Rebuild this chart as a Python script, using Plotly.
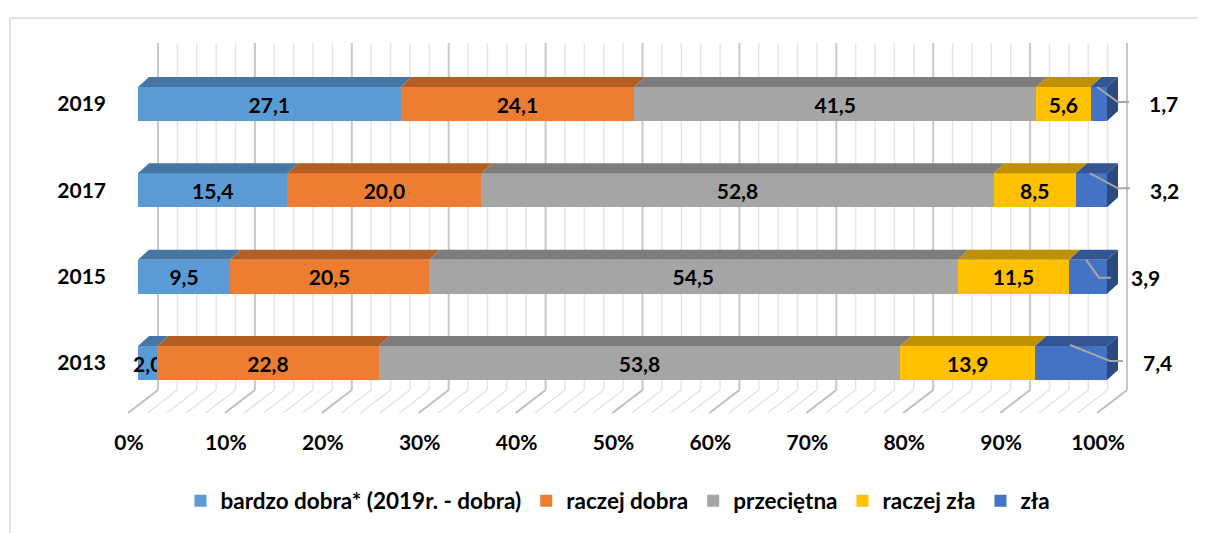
import plotly.graph_objects as go

# ---------------- data ----------------
years = ["2013", "2015", "2017", "2019"]
series_names = ["bardzo dobra* (2019r. - dobra)", "raczej dobra", "przeciętna", "raczej zła", "zła"]
bardzo_dobra = [2.0, 9.5, 15.4, 27.1]
raczej_dobra = [22.8, 20.5, 20.0, 24.1]
przecietna = [53.8, 54.5, 52.8, 41.5]
raczej_zla = [13.9, 11.5, 8.5, 5.6]
zla = [7.4, 3.9, 3.2, 1.7]
x_tick_values = [0, 10, 20, 30, 40, 50, 60, 70, 80, 90, 100]
x_tick_labels = ["0%", "10%", "20%", "30%", "40%", "50%", "60%", "70%", "80%", "90%", "100%"]

series = [bardzo_dobra, raczej_dobra, przecietna, raczej_zla, zla]
front_colors = ["#5B9BD5", "#ED7D31", "#A5A5A5", "#FFC000", "#4472C4"]
top_colors = ["#4676A4", "#B35F24", "#7D7D7D", "#BF9000", "#335693"]
side_color = "#2D4A80"

# ---------------- geometry ----------------
# The page body has an 8px margin, so figure pixel = page pixel - 8.
OFF = 8
PAGE_W, PAGE_H = 1205, 533
W, H = PAGE_W - OFF, PAGE_H - OFF
# plot area in page pixels
PL, PR, PT, PB = 110, 1190, 30, 420
ML, MR, MT, MB = PL - OFF, W - (PR - OFF), PT - OFF, H - (PB - OFF)

X0_PX, PX_PER_X = 138.0, 9.69     # page pixel of 0 %, pixels per percent
Y0_PX, PX_PER_Y = 363.0, 86.33    # page pixel of first category, pixels per category

def xdata(page_px):
    return (page_px - X0_PX) / PX_PER_X

def ydata(page_px):
    return (Y0_PX - page_px) / PX_PER_Y

def dxp(p):
    return p / PX_PER_X

def dyp(p):
    return p / PX_PER_Y

x_range = [xdata(PL), xdata(PR)]
y_range = [ydata(PB), ydata(PT)]

BAR_W = dyp(34)
DX, DY = dxp(11), dyp(10)

ypos = list(range(len(years)))
totals = [sum(s[i] for s in series) for i in ypos]

fig = go.Figure()

def fmt(v):
    return f"{v:.1f}".replace(".", ",")

LABEL_FONT = dict(family="Lato", size=21, color="black", weight="bold")

for k, (name, vals) in enumerate(zip(series_names, series)):
    show_text = k < 4
    fig.add_trace(go.Bar(
        y=ypos, x=vals, name=name, orientation="h", width=BAR_W,
        marker=dict(color=front_colors[k], line=dict(width=0)),
        text=[fmt(v) for v in vals] if show_text else None,
        textposition="inside" if show_text else "none",
        insidetextanchor="middle", textangle=0,
        textfont=LABEL_FONT,
        hoverinfo="skip",
    ))

shapes = []
# back wall + floor gridlines
GX = dxp(20)
wall_top, wall_bot = ydata(43), ydata(390)
floor_front = ydata(413)
FLOOR_DX = dxp(-30)
for v in range(0, 101, 2):
    major = v % 10 == 0
    col_v = "#C8C8C8" if major else "#E6E6E6"
    col_f = "#BFBFBF" if major else "#E3E3E3"
    xb = v + GX
    shapes.append(dict(type="line", xref="x", yref="y", x0=xb, x1=xb, y0=wall_bot, y1=wall_top,
                       line=dict(color=col_v, width=2 if major else 1.5), layer="below"))
    shapes.append(dict(type="line", xref="x", yref="y", x0=xb, x1=xb + FLOOR_DX, y0=wall_bot, y1=floor_front,
                       line=dict(color=col_f, width=2 if major else 1.5), layer="below"))

# top faces and right side face (3-D look)
for i in ypos:
    base = 0.0
    top = i + BAR_W / 2
    bot = i - BAR_W / 2
    for k, vals in enumerate(series):
        a = base
        b = base + vals[i] / totals[i] * 100
        base = b
        path = f"M{a},{top} L{b},{top} L{b + DX},{top + DY} L{a + DX},{top + DY} Z"
        shapes.append(dict(type="path", xref="x", yref="y", path=path,
                           fillcolor=top_colors[k], line=dict(width=0), layer="above"))
    path = f"M{base},{bot} L{base},{top} L{base + DX},{top + DY} L{base + DX},{bot + DY} Z"
    shapes.append(dict(type="path", xref="x", yref="y", path=path,
                       fillcolor=side_color, line=dict(width=0), layer="above"))

# outside labels for "zła" with leader lines (pixel offsets from bar end / centre)
leader_offsets = [  # (start, elbow, end, label) per year, pixels (x right, y down)
    ((-37, -18), (3, -2), (16, -2), (50, -1)),
    ((-21, -17), (-8, 1), (4, 1), (38, 1)),
    ((-17, -17), (11, -2), (23, -2), (57, 0)),
    ((-10, -17), (11, -2), (22, -2), (56, -1)),
]
annotations = []
for i in ypos:
    s, e, t, lab = leader_offsets[i]
    pts = [(100 + dxp(p[0]), i - dyp(p[1])) for p in (s, e, t)]
    path = "M" + " L".join(f"{x},{y}" for x, y in pts)
    shapes.append(dict(type="path", xref="x", yref="y", path=path,
                       line=dict(color="#A6A6A6", width=2), layer="above"))
    annotations.append(dict(x=100 + dxp(lab[0]), y=i - dyp(lab[1]), xref="x", yref="y",
                            text=fmt(zla[i]), showarrow=False, xanchor="center", yanchor="middle",
                            font=LABEL_FONT))

# chart border (left and top), page pixels x=10, y=18
pw, ph = W - ML - MR, H - MT - MB

def xpaper(page_px):
    return (page_px - PL) / pw

def ypaper(page_px):
    return (PB - page_px) / ph

shapes.append(dict(type="line", xref="paper", yref="paper", x0=xpaper(10), x1=xpaper(10),
                   y0=ypaper(18), y1=ypaper(PAGE_H + 5), line=dict(color="#D9D9D9", width=1.5)))
shapes.append(dict(type="line", xref="paper", yref="paper", x0=xpaper(10), x1=xpaper(PAGE_W + 5),
                   y0=ypaper(18), y1=ypaper(18), line=dict(color="#D9D9D9", width=1.5)))

fig.update_layout(
    width=W, height=H,
    margin=dict(l=ML, r=MR, t=MT, b=MB, pad=0, autoexpand=False),
    barmode="stack", barnorm="percent",
    paper_bgcolor="white", plot_bgcolor="white",
    font=dict(family="Lato", size=21, color="black", weight="bold"),
    uniformtext=dict(minsize=21, mode="show"),
    shapes=shapes, annotations=annotations,
    showlegend=True,
    legend=dict(orientation="h", x=xpaper(618), xanchor="center",
                y=ypaper(501), yanchor="middle",
                font=dict(family="Lato", size=22.5, color="black", weight="bold"),
                traceorder="normal", itemclick=False, bgcolor="rgba(0,0,0,0)"),
    xaxis=dict(range=x_range, tickvals=x_tick_values, ticktext=x_tick_labels,
               showgrid=False, zeroline=False, showline=False, ticks="", automargin=False,
               ticklabelstandoff=8, ticklabelshift=-9, fixedrange=True),
    yaxis=dict(range=y_range, tickvals=ypos, ticktext=years, automargin=False,
               showgrid=False, zeroline=False, showline=False, ticks="",
               ticklabelstandoff=3, fixedrange=True),
)

fig.write_html("out.html")
